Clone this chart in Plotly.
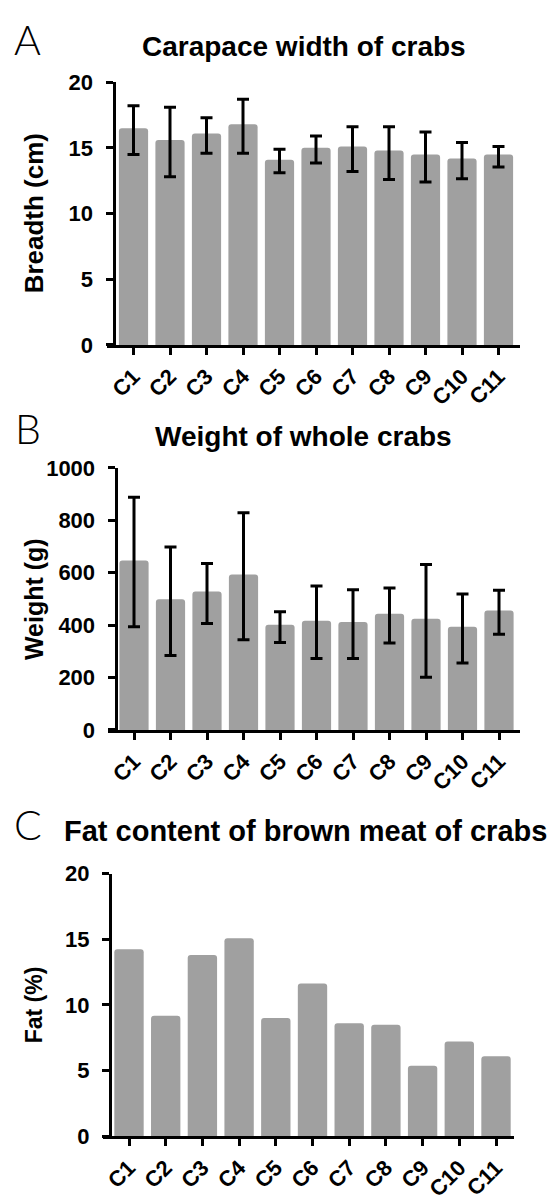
import plotly.graph_objects as go

# ---------------- data ----------------
crabs = ["C1", "C2", "C3", "C4", "C5", "C6", "C7", "C8", "C9", "C10", "C11"]

width_mean = [16.5, 15.6, 16.1, 16.8, 14.1, 15.0, 15.1, 14.8, 14.5, 14.2, 14.5]
width_err_up = [1.7, 2.5, 1.2, 1.9, 0.8, 0.9, 1.5, 1.8, 1.7, 1.2, 0.6]
width_err_down = [2.0, 2.8, 1.5, 2.2, 1.0, 1.15, 1.9, 2.2, 2.1, 1.55, 0.95]

weight_mean = [647, 499, 528, 593, 401, 417, 412, 443, 424, 394, 456]
weight_err_up = [241, 199, 107, 236, 50, 132, 123, 99, 207, 125, 77]
weight_err_down = [253, 215, 122, 249, 67, 144, 139, 111, 223, 139, 91]

fat_pct = [14.24, 9.18, 13.80, 15.09, 9.01, 11.64, 8.61, 8.49, 5.36, 7.22, 6.10]

width_ticks = [0, 5, 10, 15, 20]
weight_ticks = [0, 200, 400, 600, 800, 1000]
fat_ticks = [0, 5, 10, 15, 20]

# ---------------- layout helpers ----------------
PAGE_W, PAGE_H = 557, 1201
OFF = 8  # default body margin of the html page
W, H = PAGE_W - OFF, PAGE_H - OFF
GREY = "#a0a0a0"
FAM = "Liberation Sans, Arial, sans-serif"
TICKFONT = dict(family=FAM, size=22, color="black", weight="bold")
LETTERFONT = dict(family="Lato, Open Sans, sans-serif", size=41, color="black", weight=300)


def fx(px):
    return (px - OFF) / W


def fy(py):
    return 1 - (py - OFF) / H


fig = go.Figure()

panels = [
    # (suffix, means, up, down, xline_left, yaxis_x, c1, spacing, xline_right, ytop, ybot, ymax, ticks)
    ("", width_mean, width_err_up, width_err_down, 107, 113.5, 133.5, 36.5, 520, 71.7, 340.7, 20, width_ticks),
    ("2", weight_mean, weight_err_up, weight_err_down, 108, 115.5, 134, 36.5, 520, 466.7, 735, 1000, weight_ticks),
    ("3", fat_pct, None, None, 103, 110, 129, 36.7, 514, 882.3, 1151, 20, fat_ticks),
]

for suf, vals, up, down, xl, yx, c1, sp, xr, ytop, ybot, ymax, ticks in panels:
    bar = dict(
        x=crabs, y=vals, xaxis="x" + suf, yaxis="y" + suf,
        marker=dict(color=GREY, line=dict(width=0), cornerradius=3),
        showlegend=False,
    )
    if up is not None:
        bar["error_y"] = dict(type="data", symmetric=False, array=up, arrayminus=down,
                              color="black", thickness=3, width=6)
    fig.add_trace(go.Bar(**bar))

    n = len(crabs) - 1
    left = (xl - c1) / sp
    right = n + (xr - (c1 + sp * n)) / sp
    fig.update_layout(**{
        "xaxis" + suf: dict(
            domain=[fx(xl), fx(xr)], anchor="y" + suf, type="category",
            range=[left, right], showline=True, linecolor="black", linewidth=3,
            ticks="outside", ticklen=7, tickwidth=3, tickcolor="black",
            tickangle=-45, tickfont=TICKFONT, showgrid=False, zeroline=False,
            fixedrange=True,
        ),
        "yaxis" + suf: dict(
            domain=[fy(ybot), fy(ytop)], anchor="free", position=fx(yx),
            range=[0, ymax], tickvals=ticks, showline=True, linecolor="black",
            linewidth=3, ticks="outside", ticklen=7, tickwidth=3, tickcolor="black",
            tickfont=TICKFONT, showgrid=False, zeroline=False, ticklabelstandoff=8,
            fixedrange=True,
        ),
    })

annotations = []
# panel letters
for letter, px, py in [("A", 12, 28), ("B", 13, 426), ("C", 12, 832)]:
    annotations.append(dict(text=letter, x=fx(px), y=fy(py), xref="paper", yref="paper",
                            xanchor="left", yanchor="middle", showarrow=False, font=LETTERFONT))
# panel titles
for txt, px, py, size in [("Carapace width of crabs", 304, 35, 28),
                          ("Weight of whole crabs", 303, 435, 28),
                          ("Fat content of brown meat of crabs", 305, 839, 29)]:
    annotations.append(dict(text=txt, x=fx(px), y=fy(py), xref="paper", yref="paper",
                            xanchor="center", yanchor="middle", showarrow=False,
                            font=dict(family=FAM, size=size, color="black", weight="bold")))
# axis titles
for txt, px, py, size in [("Breadth (cm)", 34, 206, 26),
                          ("Weight (g)", 34, 601, 25),
                          ("Fat (%)", 34, 1017, 23)]:
    annotations.append(dict(text=txt, x=fx(px), y=fy(py), xref="paper", yref="paper",
                            xanchor="center", yanchor="middle", textangle=-90,
                            showarrow=False,
                            font=dict(family=FAM, size=size, color="black", weight="bold")))

fig.update_layout(
    width=W, height=H, margin=dict(l=0, r=0, t=0, b=0),
    paper_bgcolor="white", plot_bgcolor="white",
    bargap=0.2, showlegend=False, annotations=annotations,
)

fig.write_html("out.html")
